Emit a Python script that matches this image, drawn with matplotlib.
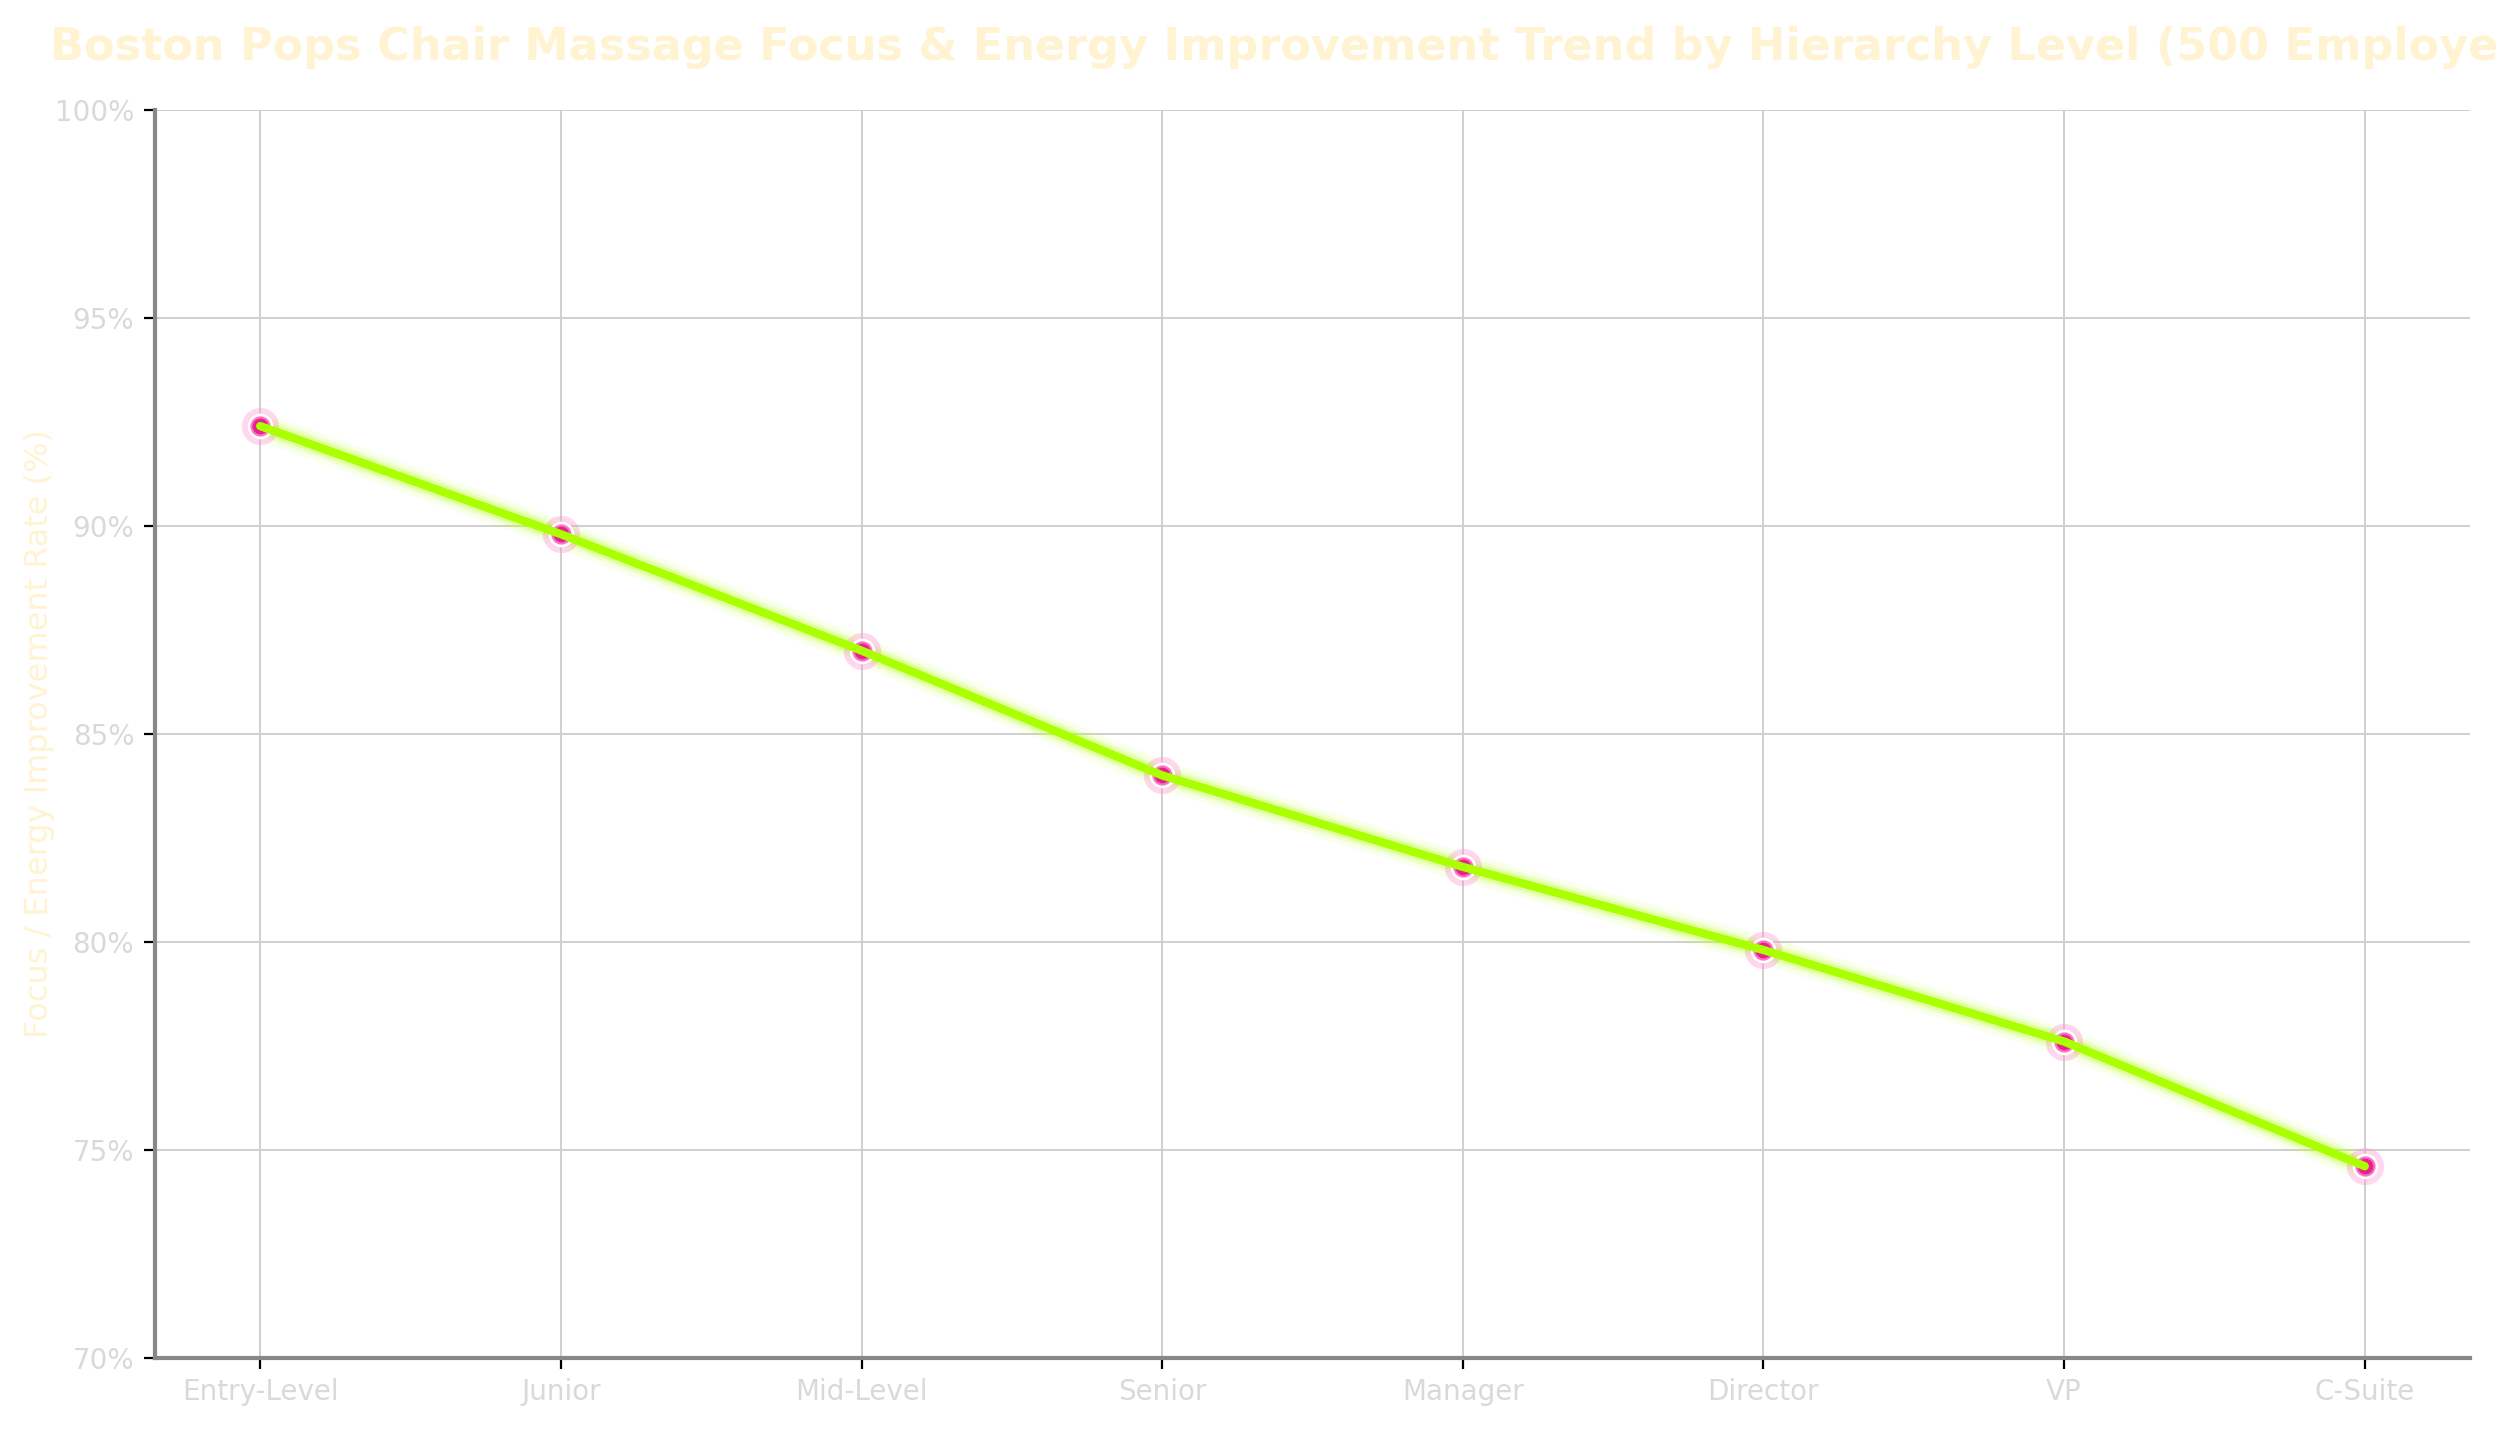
import numpy as np
import matplotlib.pyplot as plt
from matplotlib.ticker import FuncFormatter

levels = ["Entry-Level", "Junior", "Mid-Level", "Senior", "Manager", "Director", "VP", "C-Suite"]
rates = [92.4, 89.8, 87.0, 84.0, 81.8, 79.8, 77.6, 74.6]
yticks = [70, 75, 80, 85, 90, 95, 100]

title_txt = "Boston Pops Chair Massage Focus & Energy Improvement Trend by Hierarchy Level (500 Employees)"

fig = plt.figure(figsize=(12.5, 7.145), dpi=200)
ax = fig.add_axes([0.062, 0.05, 0.926, 0.873])

x = np.arange(len(levels))

# glow under the line
for lw, a in [(10, 0.1), (7, 0.18), (5, 0.3)]:
    ax.plot(x, rates, color="#c2ff3a", lw=lw, alpha=a, solid_capstyle="round", zorder=3)

# markers: halo, white ring, magenta dot
ax.scatter(x, rates, s=180, color="#ff8fd8", alpha=0.35, zorder=4, linewidths=0)
ax.scatter(x, rates, s=85, color="white", zorder=5, linewidths=0)
ax.scatter(x, rates, s=42, color="#e5238a", edgecolors="#ff6fc4", linewidths=0.8, zorder=6)

ax.plot(x, rates, color="#aaff00", lw=3, solid_capstyle="round", zorder=7)

for xi, v in zip(x, rates):
    ax.annotate(f"{v:.1f}%", (xi, v), xytext=(0, 14), textcoords="offset points",
                ha="center", va="bottom", color="white", fontsize=9, fontweight="bold", zorder=8)

ax.set_xticks(x)
ax.set_xticklabels(levels)
ax.set_ylim(70, 100)
ax.set_yticks(yticks)
ax.yaxis.set_major_formatter(FuncFormatter(lambda v, p: f"{v:.0f}%"))
ax.tick_params(axis="both", labelsize=10, labelcolor="#d9d9d9", color="black", length=4)

ax.grid(True, color="#cfcfcf", lw=0.7)
ax.set_axisbelow(True)
for s in ["top", "right"]:
    ax.spines[s].set_visible(False)
for s in ["left", "bottom"]:
    ax.spines[s].set_color("#888888")
    ax.spines[s].set_linewidth(1.5)

ax.set_ylabel("Focus / Energy Improvement Rate (%)", fontsize=11.5, color="#fff3d1", labelpad=0)
ax.set_title(title_txt, fontsize=16, fontweight="bold", color="#fff3d1", pad=18)

fig.savefig("out.png", dpi=200)
